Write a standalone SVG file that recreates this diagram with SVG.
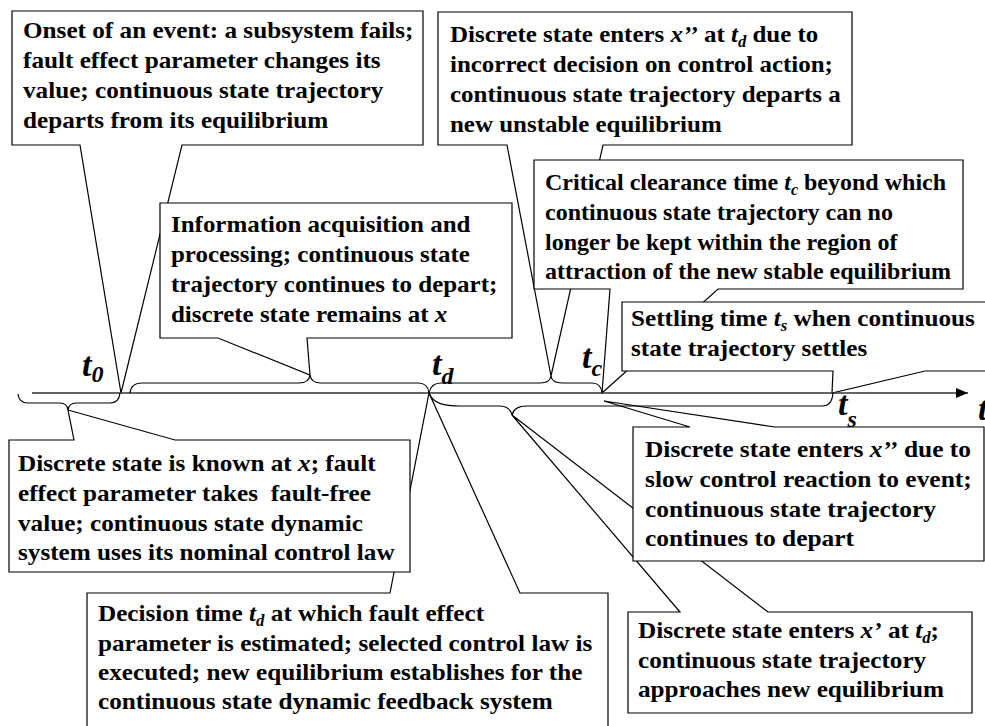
<svg xmlns="http://www.w3.org/2000/svg" width="985" height="726" viewBox="0 0 985 726">
<defs>
<style>
.box{fill:#fff;stroke:#000;stroke-width:1.2;stroke-linejoin:miter}
.tx{font-family:"Liberation Serif","Times New Roman",serif;font-weight:bold;font-size:24px;fill:#000}
.it{font-style:italic}
.sb{font-size:16px;font-style:italic}
.br{fill:none;stroke:#000;stroke-width:1.2}
.ax{fill:none;stroke:#333;stroke-width:1.6}
.lb{font-family:"Liberation Serif","Times New Roman",serif;font-weight:bold;font-style:italic;font-size:34px;fill:#000}
.lbs{font-size:24px}
</style>
<marker id="arr" markerWidth="12" markerHeight="10" refX="12" refY="5" orient="auto" markerUnits="userSpaceOnUse"><path d="M0,0 L12,5 L0,10 Z" fill="#000"/></marker>
</defs>
<rect width="985" height="726" fill="#fff"/>

<g id="onset">
<path class="box" d="M12,11 H423 V145 H182 L121,393 L80,145 H12 Z"/>
<text class="tx" transform="translate(23,0) scale(1.05,1)"><tspan x="0" y="38">Onset of an event: a subsystem fails;</tspan><tspan x="0" y="68">fault effect parameter changes its</tspan><tspan x="0" y="98">value; continuous state trajectory</tspan><tspan x="0" y="128">departs from its equilibrium</tspan></text>
</g>

<g id="info">
<path class="box" d="M160,203 H512 V338 H307 L310,375 L218,338 H160 Z"/>
<text class="tx" transform="translate(171,0) scale(1.04,1)"><tspan x="0" y="232">Information acquisition and</tspan><tspan x="0" y="262">processing; continuous state</tspan><tspan x="0" y="292">trajectory continues to depart;</tspan><tspan x="0" y="322">discrete state remains at <tspan class="it">x</tspan></tspan></text>
</g>

<g id="incorrect">
<path class="box" d="M438,12 H852 V145 H603 L551,376 L507,145 H438 Z"/>
<text class="tx" transform="translate(450,0) scale(1.04,1)"><tspan x="0" y="42">Discrete state enters <tspan class="it">x’’</tspan> at <tspan class="it">t</tspan><tspan class="sb" dy="5">d</tspan><tspan dy="-5"> due to</tspan></tspan><tspan x="0" y="72">incorrect decision on control action;</tspan><tspan x="0" y="102">continuous state trajectory departs a</tspan><tspan x="0" y="132">new unstable equilibrium</tspan></text>
</g>

<g id="critical">
<path class="box" d="M534,160 H963 V289 H718 L602,393 L610,289 H534 Z"/>
<text class="tx" transform="translate(545,0) scale(1.0,1)"><tspan x="0" y="190">Critical clearance time <tspan class="it">t</tspan><tspan class="sb" dy="5">c</tspan><tspan dy="-5"> beyond which</tspan></tspan><tspan x="0" y="220">continuous state trajectory can no</tspan><tspan x="0" y="250">longer be kept within the region of</tspan><tspan x="0" y="279">attraction of the new stable equilibrium</tspan></text>
</g>

<g id="settling">
<path class="box" d="M622,302 H990 V371 H925 L832,393 L833,371 H622 Z"/>
<text class="tx" transform="translate(631,0) scale(1.05,1)"><tspan x="0" y="326">Settling time <tspan class="it">t</tspan><tspan class="sb" dy="5">s</tspan><tspan dy="-5"> when continuous</tspan></tspan><tspan x="0" y="356">state trajectory settles</tspan></text>
</g>

<g id="decision">
<path class="box" d="M87,593 H390 L429,393 L520,593 H608 V740 H87 Z"/>
<text class="tx" transform="translate(98,0) scale(1.05,1)"><tspan x="0" y="621">Decision time <tspan class="it">t</tspan><tspan class="sb" dy="5">d</tspan><tspan dy="-5"> at which fault effect</tspan></tspan><tspan x="0" y="651">parameter is estimated; selected control law is</tspan><tspan x="0" y="680">executed; new equilibrium establishes for the</tspan><tspan x="0" y="709">continuous state dynamic feedback system</tspan></text>
</g>

<g id="known">
<path class="box" d="M9,440 H74 L68,410 L175,440 H410 V572 H9 Z"/>
<text class="tx" transform="translate(18,0) scale(1.05,1)"><tspan x="0" y="471">Discrete state is known at <tspan class="it">x</tspan>; fault</tspan><tspan x="0" y="501" xml:space="preserve">effect parameter takes  fault-free</tspan><tspan x="0" y="531">value; continuous state dynamic</tspan><tspan x="0" y="560">system uses its nominal control law</tspan></text>
</g>

<g id="approaches">
<path class="box" d="M628,612 H680 L512,415 L768,612 H972 V713 H628 Z"/>
<text class="tx" transform="translate(638,0) scale(1.05,1)"><tspan x="0" y="638">Discrete state enters <tspan class="it">x’</tspan> at <tspan class="it">t</tspan><tspan class="sb" dy="5">d</tspan><tspan dy="-5">;</tspan></tspan><tspan x="0" y="668">continuous state trajectory</tspan><tspan x="0" y="697">approaches new equilibrium</tspan></text>
</g>

<g id="slow">
<path class="box" d="M633,427 H690 L604,401 L775,427 H984 V561 H633 Z"/>
<text class="tx" transform="translate(645,0) scale(1.06,1)"><tspan x="0" y="457">Discrete state enters <tspan class="it">x’’</tspan> due to</tspan><tspan x="0" y="487">slow control reaction to event;</tspan><tspan x="0" y="517">continuous state trajectory</tspan><tspan x="0" y="546">continues to depart</tspan></text>
</g>

<g id="connectors">
<path class="ax" d="M32,393 H968" marker-end="url(#arr)"/>
<path class="br" d="M130,393 Q131,383 142,383 L299,383 Q309,383 310,375 Q311,383 321,383 L418,383 Q428,383 429,393"/>
<path class="br" d="M429,393 Q431,383 441,383 L540,383 Q550,383 551,376 Q552,383 562,383 L592,383 Q601,383 602,393"/>
<path class="br" d="M18,394 Q19,403 28,403 L60,403 Q67,403 68,410 Q69,403 76,403 L110,403 Q119,403 120,393"/>
<path class="br" d="M429,393 C433,404 445,406 460,406 L499,406 Q510,406 512,415 Q514,406 527,406 L822,406 Q832,406 833,393"/>
</g>

<g id="labels">
<text class="lb" x="82" y="376">t<tspan class="lbs" dy="6">0</tspan></text>
<text class="lb" x="432" y="375">t<tspan class="lbs" dy="9">d</tspan></text>
<text class="lb" x="582" y="368">t<tspan class="lbs" dy="8">c</tspan></text>
<text class="lb" x="838" y="415">t<tspan class="lbs" dy="12">s</tspan></text>
<text class="lb" x="978" y="420">t</text>
</g>
</svg>
